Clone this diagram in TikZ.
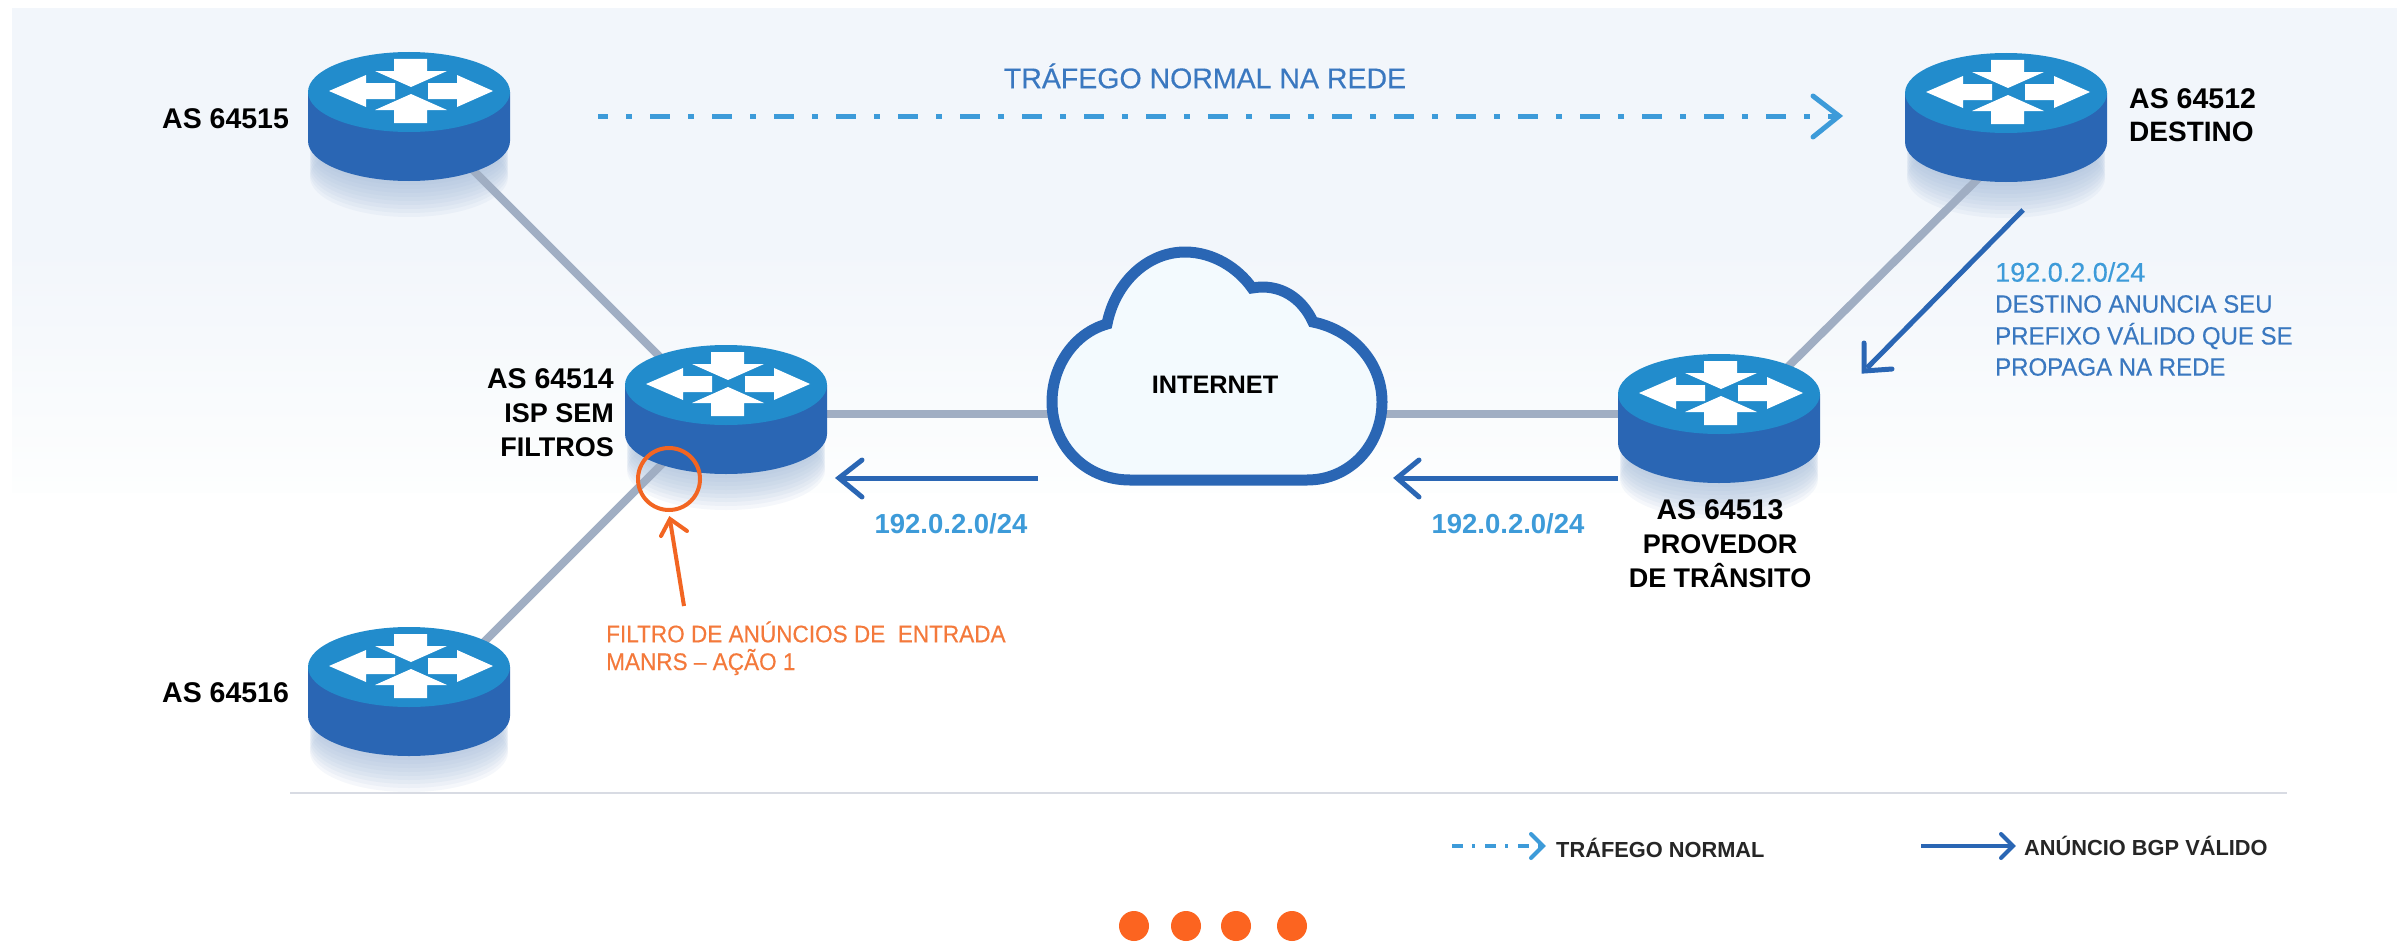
\documentclass[tikz,border=0pt]{standalone}
\usepackage{fontspec}
\setmainfont{Liberation Sans}
\newfontfamily\medA[FakeBold=0.4]{Liberation Sans}
\newfontfamily\medB[FakeBold=0.3,FakeStretch=0.96]{Liberation Sans}
\newfontfamily\medC[FakeBold=0.3,FakeStretch=0.94]{Liberation Sans}
\usetikzlibrary{calc}
\definecolor{dkblue}{HTML}{2A66B4}
\definecolor{topblue}{HTML}{228CCC}
\definecolor{ltblue}{HTML}{3D9BD9}
\definecolor{midblue}{HTML}{3A78C0}
\definecolor{linkgray}{HTML}{A0AEC3}
\definecolor{orangec}{HTML}{F26522}
\definecolor{orangetxt}{HTML}{F4793B}
\definecolor{dotc}{HTML}{FC6420}
\definecolor{shadowc}{HTML}{9DB7D8}
\definecolor{panelc}{HTML}{F2F6FB}
\definecolor{panelend}{HTML}{FDFEFE}
\definecolor{rulec}{HTML}{D8DBE3}
\definecolor{cloudfill}{HTML}{F3FAFE}
\tikzset{
  x=1pt,y=-1pt,
  routerbox/.style={inner sep=0pt,minimum width=202pt,minimum height=128pt},
  link/.style={draw=linkgray,line width=8pt},
  advline/.style={draw=dkblue,line width=5pt},
  headline/.style={line width=5pt,line cap=round,line join=miter},
  traffic/.style={draw=ltblue,line width=5pt,dash pattern=on 20pt off 18pt on 6pt off 18pt,dash phase=10pt},
  blacklbl/.style={inner sep=0pt,font=\fontsize{27}{33}\selectfont\bfseries,text=black},
  legendlbl/.style={inner sep=0pt,font=\fontsize{21.8}{26}\selectfont\bfseries,text=black!85},
  preflbl/.style={inner sep=0pt,font=\fontsize{27.5}{30}\selectfont\bfseries,text=ltblue},
  bluelbl/.style={inner sep=0pt,font=\fontsize{28.5}{32}\medA,text=midblue},
  sidelbl/.style={inner sep=0pt,anchor=west,font=\fontsize{25}{30}\medB,text=midblue},
  orangelbl/.style={inner sep=0pt,anchor=west,font=\fontsize{24}{29}\medC,text=orangetxt},
}
\newcommand{\aslbl}[1]{{\fontsize{28.5}{33}\selectfont #1}}
\newcommand{\routershadow}[1]{%
  \foreach \k in {36,32,...,2}{%
    \fill[shadowc,opacity=0.10] ($(#1)+(0,{-24+49+\k})$) ellipse [x radius=99pt,y radius=40pt];
  }}
\newcommand{\routerart}[1]{%
  \begin{scope}[shift={($(#1)+(0,-24)$)}]
    \fill[dkblue] (-101,0) -- (-101,49) arc[start angle=180,end angle=360,x radius=101,y radius=-40] -- (101,0) -- cycle;
    \fill[topblue] (0,0) ellipse [x radius=101pt,y radius=40pt];
    \fill[white] (-80,-1) -- (-43,-17) -- (-43,-9) -- (-14,-9) -- (-14,7) -- (-43,7) -- (-43,15) -- cycle;
    \fill[white] (84,-1) -- (48,-17) -- (48,-9) -- (19,-9) -- (19,7) -- (48,7) -- (48,15) -- cycle;
    \fill[white] (-15,-33) -- (18,-33) -- (18,-21) -- (38,-21) -- (2,-5) -- (-34,-21) -- (-15,-21) -- cycle;
    \fill[white] (-15,31) -- (18,31) -- (18,18) -- (38,18) -- (2,2) -- (-34,18) -- (-15,18) -- cycle;
  \end{scope}}
\begin{document}
\begin{tikzpicture}
\useasboundingbox (0,0) rectangle (2397,942);
\fill[white] (0,0) rectangle (2397,942);
\fill[panelc] (12,8) rectangle (2397,251);
\shade[top color=panelc,bottom color=panelend] (12,250) rectangle (2397,492);

% anchor nodes
\node[routerbox] (r15) at (409,116) {};
\node[routerbox] (r16) at (409,691) {};
\node[routerbox] (r14) at (726,409) {};
\node[routerbox] (r13) at (1719,418) {};
\node[routerbox] (r12) at (2006,117) {};
\coordinate (cloudc) at (1217,414);

\routershadow{r15}\routershadow{r16}\routershadow{r14}\routershadow{r13}\routershadow{r12}

% links
\draw[link] ([yshift=10pt]r15.center) -- ([xshift=-40pt,yshift=26pt]r14.center);
\draw[link] ([yshift=9pt]r14.center) -- ([yshift=-26pt]r16.center);
\draw[link] (r14.center |- cloudc) -- (cloudc) -- (r13.center |- cloudc);
\draw[link] ([yshift=-34pt]r12.center) -- ([yshift=-17pt]r13.center);

% routers
\routerart{r15}\routerart{r16}\routerart{r14}\routerart{r13}\routerart{r12}

% cloud
\draw[draw=dkblue,line width=11pt,fill=cloudfill,line join=miter]
 (1130,480) .. controls (1085,480) and (1052,445) .. (1052,402)
 .. controls (1052,365) and (1075,333) .. (1107,324)
 .. controls (1115,283) and (1147,252) .. (1185,252)
 .. controls (1213,252) and (1238,268) .. (1252,288)
 .. controls (1280,283) and (1302,298) .. (1313,322)
 .. controls (1352,330) and (1382,362) .. (1382,402)
 .. controls (1382,445) and (1350,480) .. (1307,480) -- cycle;
\node[blacklbl,font=\fontsize{25.3}{30}\selectfont\bfseries] (inet) at (1215,385) {INTERNET};

% top traffic arrow
\coordinate (tA) at (598,116);
\coordinate (tB) at (1835,116);
\draw[traffic] (tA) -- (tB);
\draw[ltblue,headline] (1813,96) -- (1839,116) -- (1813,137);
\node[bluelbl,anchor=center] (title) at (1205,76) {TRÁFEGO NORMAL NA REDE};

% BGP arrows
\coordinate (a1) at (1038,478); \coordinate (a1t) at (843,478);
\draw[advline] (a1) -- (a1t);
\draw[dkblue,headline] (862,460) -- (839,478) -- (862,497);
\coordinate (a2) at (1618,478); \coordinate (a2t) at (1400,478);
\draw[advline] (a2) -- (a2t);
\draw[dkblue,headline] (1419,460) -- (1397,478) -- (1419,497);
\coordinate (a3) at (2023,210); \coordinate (a3t) at (1867,368);
\draw[advline] (a3) -- (a3t);
\draw[dkblue,headline] (1864,343) -- (1864,371) -- (1892,369);

% orange filter marker
\draw[orangec,line width=4pt] (669,479) circle [radius=31pt];
\coordinate (oA) at (684,606); \coordinate (oB) at (670,520);
\draw[orangec,line width=4pt] (oA) -- (oB);
\draw[orangec,headline,line width=4pt] (661,536) -- (670,519) -- (687,531);
\node[orangelbl] (ot1) at (606,632) {FILTRO DE ANÚNCIOS DE\ \ ENTRADA};
\node[orangelbl] (ot2) at (606,662) {MANRS – AÇÃO 1};

% labels
\node[blacklbl,anchor=west] (l15) at (162,119) {\aslbl{AS 64515}};
\node[blacklbl,anchor=west] (l16) at (162,693) {\aslbl{AS 64516}};
\node[blacklbl,anchor=north east,align=right,font=\fontsize{27}{34}\selectfont\bfseries] (l14) at (614,368) {\aslbl{AS 64514}\\ISP SEM\\FILTROS};
\node[blacklbl,anchor=north west,align=left,font=\fontsize{28}{33}\selectfont\bfseries] (l12) at (2129,88) {\aslbl{AS 64512}\\DESTINO};
\node[blacklbl,anchor=north,align=center,font=\fontsize{27}{34}\selectfont\bfseries] (l13) at (1720,499) {\aslbl{AS 64513}\\PROVEDOR\\DE TRÂNSITO};
\node[preflbl] (p1) at (951,524) {192.0.2.0/24};
\node[preflbl] (p2) at (1508,524) {192.0.2.0/24};
\node[sidelbl,font=\fontsize{27}{30}\medA,text=ltblue] (p3) at (1995,272) {192.0.2.0/24};
\node[sidelbl] (s1) at (1995,304) {DESTINO ANUNCIA SEU};
\node[sidelbl] (s2) at (1995,336) {PREFIXO VÁLIDO QUE SE};
\node[sidelbl] (s3) at (1995,367) {PROPAGA NA REDE};

% rule
\coordinate (rl) at (290,793); \coordinate (rr) at (2287,793);
\draw[rulec,line width=2.5pt] (rl) -- (rr);

% legend
\coordinate (g1) at (1452,846); \coordinate (g1t) at (1540,846);
\draw[draw=ltblue,line width=4pt,dash pattern=on 11pt off 9pt on 3pt off 10pt] (g1) -- (g1t);
\draw[ltblue,headline,line width=4pt] (1531,834) -- (1543,846) -- (1531,858);
\node[legendlbl,anchor=west] (g1l) at (1556,848) {TRÁFEGO NORMAL};
\coordinate (g2) at (1921,846); \coordinate (g2t) at (2011,846);
\draw[advline,line width=4pt] (g2) -- (g2t);
\draw[dkblue,headline,line width=4pt] (2001,834) -- (2013,846) -- (2001,858);
\node[legendlbl,anchor=west] (g2l) at (2024,846) {ANÚNCIO BGP VÁLIDO};

% dots
\foreach \x in {1134,1186,1236,1292}{
  \fill[dotc] (\x,926) circle [radius=15pt];
}
\end{tikzpicture}
\end{document}
